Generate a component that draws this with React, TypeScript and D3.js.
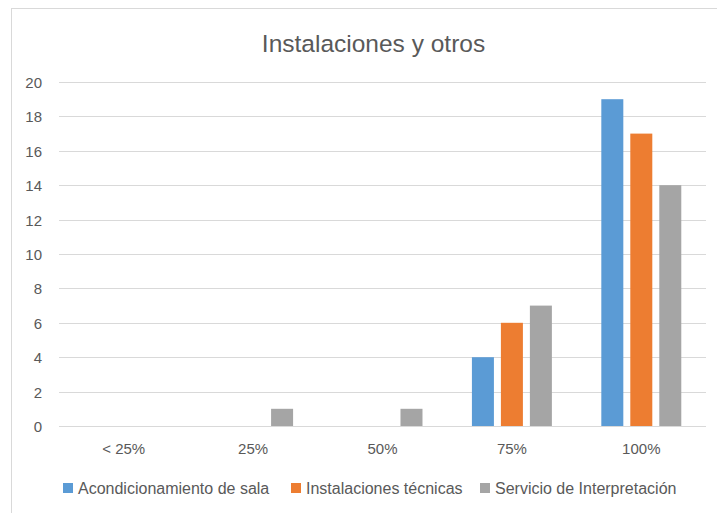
import React, { useRef, useEffect } from "react";
import * as d3 from "d3";

const categories = ["< 25%", "25%", "50%", "75%", "100%"];
const seriesNames = ["Acondicionamiento de sala", "Instalaciones técnicas", "Servicio de Interpretación"];
const acondicionamiento = [0, 0, 0, 4, 19];
const instalaciones = [0, 0, 0, 6, 17];
const servicio = [0, 1, 1, 7, 14];
const yTicks = [0, 2, 4, 6, 8, 10, 12, 14, 16, 18, 20];
const colors = ["#5B9BD5", "#ED7D31", "#A5A5A5"];

const W = 717;
const H = 513;
const font = "'Liberation Sans', Arial, sans-serif";

export default function App() {
  const ref = useRef<SVGSVGElement>(null);

  useEffect(() => {
    if (!ref.current) return;
    const svg = d3.select(ref.current);
    svg.selectAll("*").remove();

    const series = [acondicionamiento, instalaciones, servicio];

    // chart frame, runs off the right and bottom edge
    svg.append("rect")
      .attr("x", 11.5).attr("y", 8.5)
      .attr("width", 730).attr("height", 520)
      .attr("fill", "#fff")
      .attr("stroke", "#D9D9D9");

    svg.append("text")
      .attr("x", 373.5).attr("y", 52)
      .attr("text-anchor", "middle")
      .attr("font-family", font)
      .attr("font-size", 24.5)
      .attr("fill", "#595959")
      .text("Instalaciones y otros");

    const x0 = d3.scaleBand<string>()
      .domain(categories)
      .range([59, 706])
      .paddingInner(0.382)
      .paddingOuter(0.191);
    const x1 = d3.scaleBand<number>()
      .domain([0, 1, 2])
      .range([0, x0.bandwidth()])
      .paddingInner(0.241);
    const y = d3.scaleLinear().domain([0, 20]).range([426, 82]);

    // grid
    svg.append("g").selectAll("line")
      .data(yTicks)
      .join("line")
      .attr("x1", 59).attr("x2", 706)
      .attr("y1", d => Math.round(y(d)) + 0.5)
      .attr("y2", d => Math.round(y(d)) + 0.5)
      .attr("stroke", "#D9D9D9")
      .attr("stroke-width", 1);

    svg.append("g").selectAll("text")
      .data(yTicks)
      .join("text")
      .attr("x", 42)
      .attr("y", d => y(d) + 6)
      .attr("text-anchor", "end")
      .attr("font-family", font)
      .attr("font-size", 15)
      .attr("fill", "#595959")
      .text(d => d);

    // bars
    series.forEach((vals, s) => {
      svg.append("g").selectAll("rect")
        .data(vals)
        .join("rect")
        .attr("x", (d, i) => (x0(categories[i]) ?? 0) + (x1(s) ?? 0))
        .attr("y", d => y(d))
        .attr("width", x1.bandwidth())
        .attr("height", d => y(0) - y(d))
        .attr("fill", colors[s]);
    });

    // baseline
    svg.append("line")
      .attr("x1", 59).attr("x2", 706)
      .attr("y1", Math.round(y(0)) + 0.5).attr("y2", Math.round(y(0)) + 0.5)
      .attr("stroke", "#D9D9D9");

    svg.append("g").selectAll("text")
      .data(categories)
      .join("text")
      .attr("x", d => (x0(d) ?? 0) + x0.bandwidth() / 2)
      .attr("y", 454)
      .attr("text-anchor", "middle")
      .attr("font-family", font)
      .attr("font-size", 15)
      .attr("fill", "#595959")
      .text(d => d);

    // legend
    const legendX = [63, 291, 480];
    const lg = svg.append("g").selectAll("g")
      .data(seriesNames)
      .join("g")
      .attr("transform", (d, i) => `translate(${legendX[i]},483)`);
    lg.append("rect")
      .attr("width", 10).attr("height", 10)
      .attr("fill", (d, i) => colors[i]);
    lg.append("text")
      .attr("x", 15).attr("y", 11)
      .attr("font-family", font)
      .attr("font-size", 16)
      .attr("fill", "#595959")
      .text(d => d);
  }, []);

  return (
    <svg
      ref={ref}
      width={W}
      height={H}
      style={{ position: "absolute", left: 0, top: 0, display: "block" }}
    />
  );
}
